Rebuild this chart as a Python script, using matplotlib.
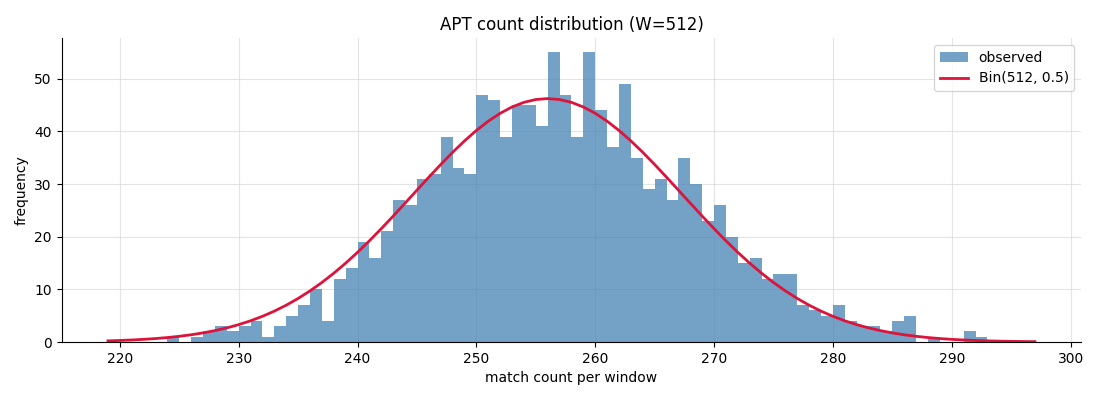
import math

import matplotlib
matplotlib.use("Agg")
import matplotlib.pyplot as plt
import numpy as np

# 観測されたカウント (ビン = 整数のマッチ数)
match_counts = np.arange(224, 293)
frequencies = [1, 0, 1, 2, 3, 2, 3, 4, 1, 3,
               5, 7, 10, 4, 12, 14, 19, 16, 21, 27,
               26, 31, 32, 39, 33, 32, 47, 46, 39, 45,
               45, 41, 55, 47, 39, 55, 44, 37, 49, 35,
               29, 31, 27, 35, 30, 23, 26, 20, 15, 16,
               12, 13, 13, 7, 6, 5, 7, 4, 3, 3,
               2, 4, 5, 0, 1, 0, 0, 2, 1]

window = 512
p = 0.5

# 理論曲線 Bin(512, 0.5) をサンプル数でスケール
n_windows = sum(frequencies)
k = np.arange(match_counts.min() - 5, match_counts.max() + 6)
pmf = np.array([math.comb(window, int(i)) * p ** i * (1 - p) ** (window - i) for i in k])

fig, ax = plt.subplots(figsize=(11, 4), dpi=100)
bars = ax.bar(match_counts, frequencies, width=1.0, align="edge",
              color="steelblue", alpha=0.75, label="observed")
line, = ax.plot(k, pmf * n_windows, color="crimson", lw=2, label=f"Bin({window}, {p})")

ax.set_title(f"APT count distribution (W={window})", fontsize=12)
ax.set_xlabel("match count per window")
ax.set_ylabel("frequency")
ax.grid(True, color="lightgray", alpha=0.6)
ax.set_axisbelow(True)
ax.spines["top"].set_visible(False)
ax.spines["right"].set_visible(False)
ax.legend(handles=[bars, line], loc="upper right")

fig.subplots_adjust(left=0.056, right=0.983, top=0.905, bottom=0.145)
fig.savefig("out.png")
